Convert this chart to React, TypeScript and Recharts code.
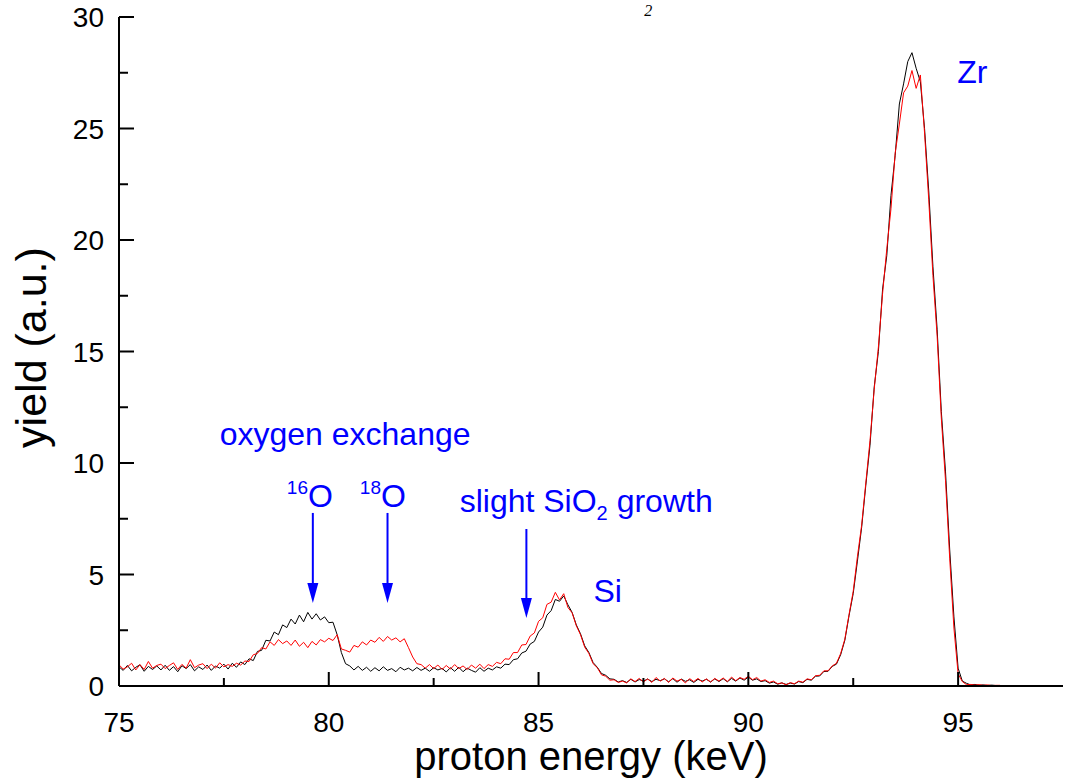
import React from "react"
import { LineChart, Line, XAxis, YAxis, ReferenceDot, ReferenceLine, Label } from "recharts"

// spectrum sampled every 0.1 keV from 75.0 to 96.0 keV (one row per keV)
const START_KEV = 75
const STEP_KEV = 0.1

// black trace
const blackYield = [
  0.86, 0.7, 0.92, 0.68, 0.84, 0.95, 0.66, 0.88, 0.74, 0.9, // 75
  0.72, 0.93, 0.7, 0.87, 0.64, 0.91, 0.78, 0.96, 0.68, 0.86, // 76
  0.74, 0.94, 0.7, 0.9, 0.8, 0.98, 0.76, 1.02, 0.84, 1.08, // 77
  0.96, 1.22, 1.14, 1.55, 1.6, 2.05, 2.02, 2.42, 2.3, 2.74, // 78
  2.62, 3.0, 2.78, 3.18, 2.88, 3.3, 3.0, 3.24, 2.96, 3.1, // 79
  2.84, 2.86, 2.3, 1.5, 1.0, 0.9, 0.72, 0.88, 0.7, 0.84, // 80
  0.66, 0.82, 0.68, 0.86, 0.7, 0.78, 0.64, 0.84, 0.72, 0.8, // 81
  0.68, 0.83, 0.7, 0.8, 0.66, 0.82, 0.72, 0.79, 0.63, 0.82, // 82
  0.66, 0.84, 0.64, 0.8, 0.7, 0.62, 0.82, 0.66, 0.8, 0.72, // 83
  0.86, 0.8, 0.98, 0.96, 1.18, 1.22, 1.48, 1.56, 1.88, 2.0, // 84
  2.42, 2.64, 3.18, 3.38, 3.88, 3.8, 4.04, 3.64, 3.3, 2.74, // 85
  2.34, 1.8, 1.5, 1.05, 0.84, 0.56, 0.48, 0.32, 0.3, 0.18, // 86
  0.24, 0.16, 0.3, 0.18, 0.29, 0.22, 0.31, 0.2, 0.3, 0.24, // 87
  0.32, 0.19, 0.33, 0.17, 0.31, 0.21, 0.28, 0.16, 0.3, 0.22, // 88
  0.3, 0.18, 0.32, 0.2, 0.33, 0.19, 0.34, 0.22, 0.36, 0.26, // 89
  0.4, 0.26, 0.32, 0.2, 0.24, 0.13, 0.18, 0.08, 0.14, 0.07, // 90
  0.13, 0.09, 0.2, 0.15, 0.3, 0.26, 0.44, 0.45, 0.65, 0.66, // 91
  0.88, 0.98, 1.4, 2.05, 3.15, 4.15, 5.6, 7.1, 9.0, 10.8, // 92
  13.4, 15.0, 17.8, 19.3, 22.0, 23.8, 26.1, 27.0, 28.0, 28.4, // 93
  27.7, 27.1, 25.0, 22.2, 18.8, 16.0, 12.3, 9.6, 6.1, 3.1, // 94
  0.8, 0.22, 0.12, 0.05, 0.07, 0.03, 0.05, 0.02, 0.04, 0.02, // 95
  0.02, // 96
]

// red trace
const redYield = [
  0.95, 0.76, 0.86, 1.02, 0.72, 0.96, 0.74, 1.1, 0.8, 0.92, // 75
  0.98, 0.78, 0.92, 1.04, 0.74, 0.97, 0.8, 1.18, 0.82, 0.94, // 76
  1.0, 0.78, 0.98, 0.8, 1.04, 0.86, 0.96, 0.88, 1.02, 0.94, // 77
  1.12, 1.1, 1.4, 1.46, 1.72, 1.66, 1.98, 1.82, 2.08, 1.9, // 78
  2.02, 1.82, 2.06, 1.78, 1.96, 1.72, 2.0, 1.84, 2.08, 1.98, // 79
  2.14, 2.04, 2.3, 1.66, 1.6, 1.52, 1.82, 1.74, 1.98, 1.84, // 80
  2.06, 1.96, 2.18, 2.0, 2.22, 2.06, 2.16, 1.98, 2.12, 1.72, // 81
  1.3, 1.0, 0.96, 0.8, 0.96, 0.78, 0.94, 0.74, 0.92, 0.76, // 82
  0.96, 0.78, 0.9, 0.74, 0.94, 0.8, 0.98, 0.78, 0.96, 0.88, // 83
  1.06, 1.0, 1.22, 1.2, 1.5, 1.5, 1.84, 1.86, 2.24, 2.38, // 84
  2.9, 3.06, 3.66, 3.76, 4.2, 3.86, 4.14, 3.52, 3.28, 2.7, // 85
  2.3, 1.74, 1.46, 1.0, 0.82, 0.5, 0.44, 0.26, 0.28, 0.16, // 86
  0.22, 0.14, 0.32, 0.2, 0.34, 0.18, 0.32, 0.16, 0.38, 0.22, // 87
  0.34, 0.16, 0.36, 0.22, 0.3, 0.14, 0.33, 0.2, 0.34, 0.18, // 88
  0.32, 0.18, 0.34, 0.22, 0.36, 0.2, 0.4, 0.24, 0.38, 0.3, // 89
  0.44, 0.28, 0.38, 0.22, 0.28, 0.16, 0.22, 0.1, 0.14, 0.05, // 90
  0.15, 0.1, 0.22, 0.17, 0.32, 0.28, 0.46, 0.48, 0.68, 0.68, // 91
  0.9, 1.02, 1.45, 2.1, 3.2, 4.25, 5.8, 7.2, 9.1, 11.0, // 92
  13.3, 15.2, 17.6, 19.6, 21.4, 23.9, 25.2, 26.6, 26.9, 27.6, // 93
  26.8, 27.4, 24.8, 21.8, 18.4, 15.7, 12.0, 9.2, 5.7, 2.6, // 94
  0.55, 0.2, 0.06, 0.07, 0.04, 0.06, 0.03, 0.05, 0.02, 0.03, // 95
  0.03, // 96
]

const xTicks = [75, 77.5, 80, 82.5, 85, 87.5, 90, 92.5, 95]
const yTicks = [0, 2.5, 5, 7.5, 10, 12.5, 15, 17.5, 20, 22.5, 25, 27.5, 30]

const data = blackYield.map((b, i) => ({
  energy: Math.round((START_KEV + i * STEP_KEV) * 10) / 10,
  black: b,
  red: redYield[i],
}))

const FONT = "'Liberation Sans', Arial, sans-serif"
const BLUE = "#0000ff"

const isMajor = (v: number) => v % 5 === 0

const BottomTick = (props: any) => {
  const { x, y, payload } = props
  const major = isMajor(payload.value)
  return (
    <g>
      <line x1={x} y1={y} x2={x} y2={y - (major ? 14 : 8)} stroke="#000" strokeWidth={2} />
      {major && (
        <text x={x} y={y + 46} textAnchor="middle" fontSize={28} fontFamily={FONT} fill="#000">
          {payload.value}
        </text>
      )}
    </g>
  )
}

const LeftTick = (props: any) => {
  const { x, y, payload } = props
  const major = isMajor(payload.value)
  return (
    <g>
      <line x1={x} y1={y} x2={x + (major ? 15 : 9)} y2={y} stroke="#000" strokeWidth={2} />
      {major && (
        <text x={x - 15} y={y + 10} textAnchor="end" fontSize={28} fontFamily={FONT} fill="#000">
          {payload.value}
        </text>
      )}
    </g>
  )
}

const TopTick = (props: any) => {
  const { x, y } = props
  return <line x1={x} y1={y} x2={x} y2={y + 3} stroke="#000" strokeWidth={2} />
}

const RightTick = (props: any) => {
  const { x, y } = props
  return <line x1={x} y1={y} x2={x - 4} y2={y} stroke="#000" strokeWidth={2} />
}

// annotation arrows: x position, start and tip yield
const arrows = [
  { x: 79.62, from: 7.76, to: 3.72 },
  { x: 81.4, from: 7.76, to: 3.72 },
  { x: 84.71, from: 7.04, to: 3.05 },
]

const Arrow = (props: any) => {
  const { x1, y1, x2, y2 } = props
  const head = 20
  return (
    <g>
      <line x1={x1} y1={y1} x2={x2} y2={y2 - head} stroke={BLUE} strokeWidth={2} />
      <polygon points={`${x2 - 5.5},${y2 - head} ${x2 + 5.5},${y2 - head} ${x2},${y2}`} fill={BLUE} />
    </g>
  )
}

const textAt = (content: React.ReactNode, size = 32) => (props: any) => (
  <text x={props.cx} y={props.cy} fontSize={size} fontFamily={FONT} fill={BLUE}>
    {content}
  </text>
)

export default function App() {
  return (
    <div style={{ position: "absolute", left: 0, top: 0, width: 1068, height: 779, background: "#fff" }}>
      <LineChart width={1068} height={779} data={data} margin={{ top: 17, right: 5, left: 0, bottom: 0 }}>
        <XAxis
          dataKey="energy"
          type="number"
          domain={[75, 97.5]}
          ticks={xTicks}
          interval={0}
          allowDataOverflow
          height={93}
          tickSize={0}
          tickMargin={0}
          tickLine={false}
          tick={<BottomTick />}
          axisLine={{ stroke: "#000", strokeWidth: 2 }}
        >
          <Label
            content={(p: any) => (
              <text
                x={p.viewBox.x + p.viewBox.width / 2}
                y={p.viewBox.y + 84}
                textAnchor="middle"
                fontSize={40}
                fontFamily={FONT}
                fill="#000"
              >
                proton energy (keV)
              </text>
            )}
          />
        </XAxis>
        <XAxis
          xAxisId="top"
          orientation="top"
          dataKey="energy"
          type="number"
          domain={[75, 97.5]}
          ticks={xTicks}
          interval={0}
          height={0}
          tickSize={0}
          tickMargin={0}
          tickLine={false}
          tick={<TopTick />}
          axisLine={{ stroke: "#000", strokeWidth: 1.5 }}
        />
        <YAxis
          type="number"
          domain={[0, 30]}
          ticks={yTicks}
          interval={0}
          width={119}
          tickSize={0}
          tickMargin={0}
          tickLine={false}
          tick={<LeftTick />}
          axisLine={{ stroke: "#000", strokeWidth: 2 }}
        >
          <Label
            content={(p: any) => {
              const cx = 46
              const cy = p.viewBox.y + p.viewBox.height / 2 - 4
              return (
                <text
                  x={cx}
                  y={cy}
                  transform={`rotate(-90 ${cx} ${cy})`}
                  textAnchor="middle"
                  fontSize={43}
                  fontFamily={FONT}
                  fill="#000"
                >
                  yield (a.u.)
                </text>
              )
            }}
          />
        </YAxis>
        <YAxis
          yAxisId="right"
          orientation="right"
          type="number"
          domain={[0, 30]}
          ticks={yTicks}
          interval={0}
          width={0}
          tickSize={0}
          tickMargin={0}
          tickLine={false}
          tick={<RightTick />}
          axisLine={{ stroke: "#000", strokeWidth: 1.5 }}
        />

        <Line dataKey="black" stroke="#000" strokeWidth={1} dot={false} isAnimationActive={false} />
        <Line dataKey="red" stroke="#ff0000" strokeWidth={1} dot={false} isAnimationActive={false} />

        {arrows.map((a, i) => (
          <ReferenceLine
            key={i}
            segment={[
              { x: a.x, y: a.from },
              { x: a.x, y: a.to },
            ]}
            shape={<Arrow />}
            ifOverflow="visible"
          />
        ))}

        <ReferenceDot x={94.98} y={27.04} r={0} ifOverflow="visible" shape={textAt("Zr")} />
        <ReferenceDot x={77.4} y={10.8} r={0} ifOverflow="visible" shape={textAt("oxygen exchange")} />
        <ReferenceDot
          x={79.0}
          y={8.03}
          r={0}
          ifOverflow="visible"
          shape={textAt(
            <>
              <tspan fontSize={19} dy={-13}>16</tspan>
              <tspan dy={13}>O</tspan>
            </>
          )}
        />
        <ReferenceDot
          x={80.74}
          y={8.03}
          r={0}
          ifOverflow="visible"
          shape={textAt(
            <>
              <tspan fontSize={19} dy={-13}>18</tspan>
              <tspan dy={13}>O</tspan>
            </>
          )}
        />
        <ReferenceDot
          x={83.12}
          y={7.8}
          r={0}
          ifOverflow="visible"
          shape={textAt(
            <>
              slight SiO
              <tspan fontSize={20} dy={8}>2</tspan>
              <tspan dy={-8}> growth</tspan>
            </>
          )}
        />
        <ReferenceDot x={86.31} y={3.77} r={0} ifOverflow="visible" shape={textAt("Si")} />
        <ReferenceDot
          x={87.52}
          y={30.04}
          r={0}
          ifOverflow="visible"
          shape={(p: any) => (
            <text x={p.cx} y={p.cy} fontSize={16} fontStyle="italic" fontFamily="'Liberation Serif', serif" fill="#000">
              2
            </text>
          )}
        />
      </LineChart>
    </div>
  )
}
